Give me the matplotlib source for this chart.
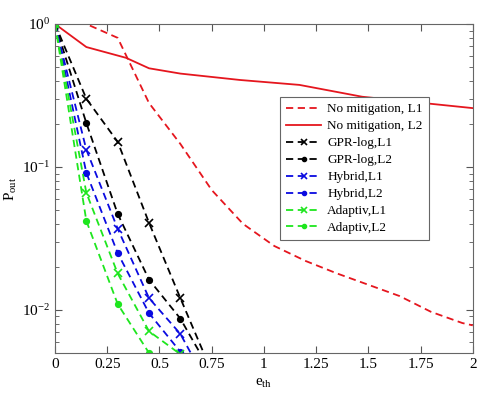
import matplotlib
matplotlib.use("Agg")
import matplotlib.pyplot as plt

plt.rcParams["font.family"] = ["Liberation Serif", "DejaVu Serif"]
plt.rcParams["mathtext.fontset"] = "custom"
plt.rcParams["mathtext.rm"] = "Liberation Serif"
plt.rcParams["mathtext.it"] = "Liberation Serif:italic"

# ---- data ----
x_nomit_l1 = [0, 0.15, 0.3, 0.45, 0.6, 0.75, 0.9, 1.05, 1.2, 1.35, 1.5, 1.65, 1.8, 1.95, 2.0]
y_nomit_l1 = [1, 1, 0.80, 0.28, 0.145, 0.069, 0.040, 0.028, 0.022, 0.018, 0.015, 0.0125, 0.0097, 0.0081, 0.0078]

x_nomit_l2 = [0, 0.15, 0.34, 0.45, 0.6, 0.885, 1.17, 1.47, 2.0]
y_nomit_l2 = [1, 0.69, 0.58, 0.49, 0.45, 0.406, 0.375, 0.31, 0.258]

x_steps = [0, 0.15, 0.3, 0.45, 0.6, 0.75]
y_gpr_l1 = [1, 0.30, 0.15, 0.0407, 0.0121, 0.0037]
y_gpr_l2 = [1, 0.203, 0.047, 0.0163, 0.0087, 0.0036]
y_hyb_l1 = [1, 0.132, 0.037, 0.0121, 0.0068, 0.0027]
y_hyb_l2 = [1, 0.091, 0.025, 0.0095, 0.0051, 0.002]
y_ada_l1 = [1, 0.066, 0.018, 0.0071, 0.0049, 0.002]
y_ada_l2 = [1, 0.042, 0.011, 0.0050, 0.0025, 0.001]

dash = (0, (4, 2.5))
red = "#e5161e"
blue = "#0a0ae0"
green = "#1ee61e"

fig = plt.figure(figsize=(4.8, 3.96), dpi=100)
ax = fig.add_axes([0.1146, 0.1086, 0.8704, 0.8308])

ax.plot(x_nomit_l1, y_nomit_l1, color=red, ls=dash, lw=1.3, label="No mitigation, L1")
ax.plot(x_nomit_l2, y_nomit_l2, color=red, ls="-", lw=1.3, label="No mitigation, L2")

series = [
    (y_gpr_l1, "black", "x", "GPR-log,L1"),
    (y_gpr_l2, "black", "o", "GPR-log,L2"),
    (y_hyb_l1, blue, "x", "Hybrid,L1"),
    (y_hyb_l2, blue, "o", "Hybrid,L2"),
    (y_ada_l1, green, "x", "Adaptiv,L1"),
    (y_ada_l2, green, "o", "Adaptiv,L2"),
]
for ys, c, m, lab in series:
    ax.plot(x_steps, ys, color=c, ls=dash, lw=1.3, marker=m,
            markersize=6 if m == "x" else 4, markeredgewidth=1.2, label=lab)

ax.set_yscale("log")
ax.set_xlim(0, 2)
ax.set_ylim(0.005, 1)
ax.set_xticks([0, 0.25, 0.5, 0.75, 1, 1.25, 1.5, 1.75, 2])
ax.set_xticklabels(["0", "0.25", "0.5", "0.75", "1", "1.25", "1.5", "1.75", "2"])
ax.tick_params(which="both", direction="in", top=True, right=True,
               colors="#555555", labelcolor="black", labelsize=11)
ax.tick_params(which="major", length=5)
ax.tick_params(which="minor", length=3)
for s in ax.spines.values():
    s.set_color("#666666")

ax.set_xlabel(r"$\mathrm{e_{th}}$", fontsize=11, labelpad=4)
ax.set_ylabel(r"$\mathrm{P_{out}}$", fontsize=11, labelpad=2)

leg = ax.legend(loc="upper left", bbox_to_anchor=(0.538, 0.778), fontsize=9.5,
                fancybox=False, framealpha=1, edgecolor="#666666",
                handlelength=2.7, handletextpad=0.45, markerscale=0.7,
                labelspacing=0.36, borderpad=0.45, borderaxespad=0)
leg.get_frame().set_linewidth(0.8)

fig.savefig("out.png", dpi=100)
